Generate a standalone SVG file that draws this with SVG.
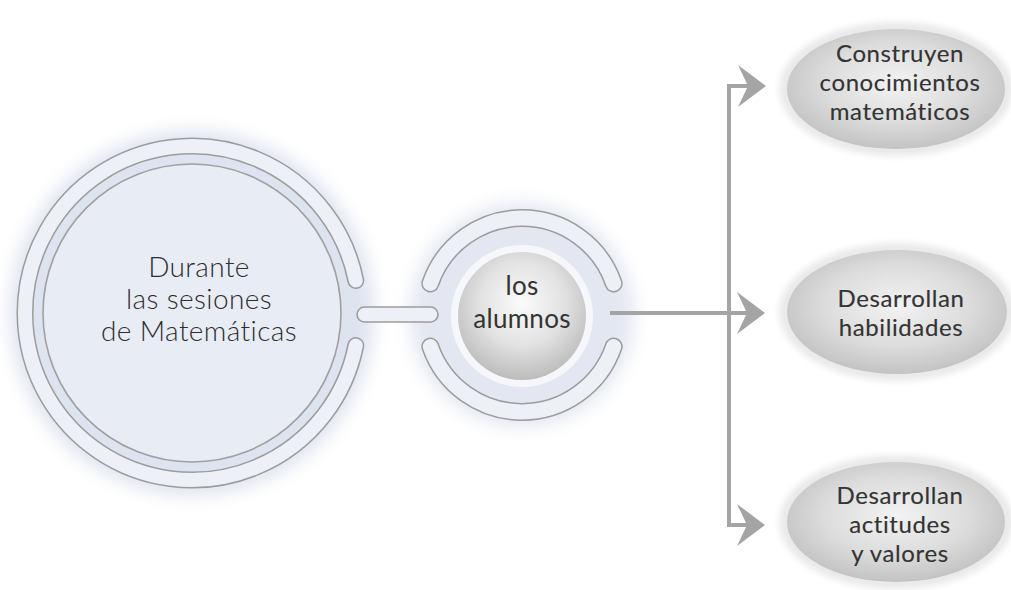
<svg xmlns="http://www.w3.org/2000/svg" width="1011" height="590" viewBox="0 0 1011 590">
  <defs>
    <filter id="glow" x="-30%" y="-30%" width="160%" height="160%">
      <feGaussianBlur stdDeviation="9"/>
    </filter>
    <filter id="halo" x="-20%" y="-20%" width="140%" height="140%">
      <feGaussianBlur stdDeviation="3"/>
    </filter>
    <radialGradient id="ballGrad" cx="0.5" cy="0.4" r="0.6">
      <stop offset="0" stop-color="#fbfbfb"/>
      <stop offset="0.55" stop-color="#e2e2e2"/>
      <stop offset="1" stop-color="#bcbcbc"/>
    </radialGradient>
    <radialGradient id="ellGrad" cx="0.5" cy="0.45" r="0.55">
      <stop offset="0" stop-color="#f3f3f3"/>
      <stop offset="0.6" stop-color="#dcdcdc"/>
      <stop offset="1" stop-color="#c3c3c3"/>
    </radialGradient>
    <path id="arrowHead" d="M -28 -21 L 0 0 L -28 21 L -18 0 Z"/>
  </defs>
  <style>
    .band-out { fill: none; stroke: #9c9c9c; stroke-width: 17; stroke-linecap: round; }
    .band-in { fill: none; stroke: #edf0f7; stroke-width: 14; stroke-linecap: round; }
    .sband-out { fill: none; stroke: #9c9c9c; stroke-width: 18; stroke-linecap: round; }
    .sband-in { fill: none; stroke: #edf0f7; stroke-width: 15; stroke-linecap: round; }
    .conn { fill: none; stroke: #a4a4a4; stroke-width: 4; }
    .head { fill: #a4a4a4; }
    .big { font-family: Lato, "Open Sans", "Liberation Sans", sans-serif; font-size: 28px; font-weight: 300; fill: #2e2e2e; text-anchor: middle; letter-spacing: 0.4px; }
    .lbl { font-family: Lato, "Open Sans", "Liberation Sans", sans-serif; font-size: 24px; fill: #333333; stroke: #333333; stroke-width: 0.15; text-anchor: middle; letter-spacing: 0.6px; }
    .mid { font-family: Lato, "Open Sans", "Liberation Sans", sans-serif; font-size: 26px; fill: #333333; text-anchor: middle; letter-spacing: 0.3px; }
  </style>

  <rect width="1011" height="590" fill="#ffffff"/>

  <g id="node-durante">
    <circle cx="192" cy="313" r="182" fill="#dde3ef" filter="url(#glow)"/>
    <path class="band-out" d="M 355.8 280.5 A 167 167 0 1 0 355.8 345.5"/>
    <path class="band-in" d="M 355.8 280.5 A 167 167 0 1 0 355.8 345.5"/>
    <circle cx="192" cy="313" r="149" fill="#e8ecf5" stroke="#a0a0a0" stroke-width="1.6"/>
    <text class="big" x="199" y="277">Durante</text>
    <text class="big" x="199" y="309">las sesiones</text>
    <text class="big" x="199" y="341">de Matemáticas</text>
  </g>

  <g id="node-alumnos">
    <circle cx="522" cy="315" r="112" fill="#e2e7f1" filter="url(#glow)"/>
    <rect x="357" y="307" width="81" height="15" rx="7.5" fill="#edf0f7" stroke="#9c9c9c" stroke-width="1.6"/>
    <path class="sband-out" d="M 430.3 283.5 A 97 97 0 0 1 613.7 283.5"/>
    <path class="sband-in" d="M 430.3 283.5 A 97 97 0 0 1 613.7 283.5"/>
    <path class="sband-out" d="M 430.3 346.5 A 97 97 0 0 0 613.7 346.5"/>
    <path class="sband-in" d="M 430.3 346.5 A 97 97 0 0 0 613.7 346.5"/>
    <circle cx="522" cy="316" r="71" fill="#f6f7fa"/>
    <circle cx="522" cy="316" r="64" fill="url(#ballGrad)"/>
    <text class="mid" x="522" y="295">los</text>
    <text class="mid" x="522" y="328">alumnos</text>
  </g>

  <g id="connectors">
    <path class="conn" d="M 610 313 L 750 313"/>
    <path class="conn" d="M 729 86 L 729 525"/>
    <path class="conn" d="M 727 86 L 750 86"/>
    <path class="conn" d="M 727 525 L 750 525"/>
    <use href="#arrowHead" class="head" transform="translate(766 86)"/>
    <use href="#arrowHead" class="head" transform="translate(765 313)"/>
    <use href="#arrowHead" class="head" transform="translate(765 525)"/>
  </g>

  <g id="node-construyen">
    <ellipse cx="896" cy="89" rx="117" ry="67" fill="#e9e9e9" filter="url(#halo)"/>
    <ellipse cx="896" cy="89" rx="109" ry="60" fill="url(#ellGrad)"/>
    <text class="lbl" x="900" y="62">Construyen</text>
    <text class="lbl" x="900" y="91">conocimientos</text>
    <text class="lbl" x="900" y="120">matemáticos</text>
  </g>

  <g id="node-habilidades">
    <ellipse cx="897" cy="312" rx="118" ry="69" fill="#e9e9e9" filter="url(#halo)"/>
    <ellipse cx="897" cy="312" rx="110" ry="62" fill="url(#ellGrad)"/>
    <text class="lbl" x="901" y="307">Desarrollan</text>
    <text class="lbl" x="901" y="336">habilidades</text>
  </g>

  <g id="node-actitudes">
    <ellipse cx="896" cy="522" rx="117" ry="67" fill="#e9e9e9" filter="url(#halo)"/>
    <ellipse cx="896" cy="522" rx="109" ry="60" fill="url(#ellGrad)"/>
    <text class="lbl" x="900" y="504">Desarrollan</text>
    <text class="lbl" x="900" y="533">actitudes</text>
    <text class="lbl" x="900" y="562">y valores</text>
  </g>
</svg>
